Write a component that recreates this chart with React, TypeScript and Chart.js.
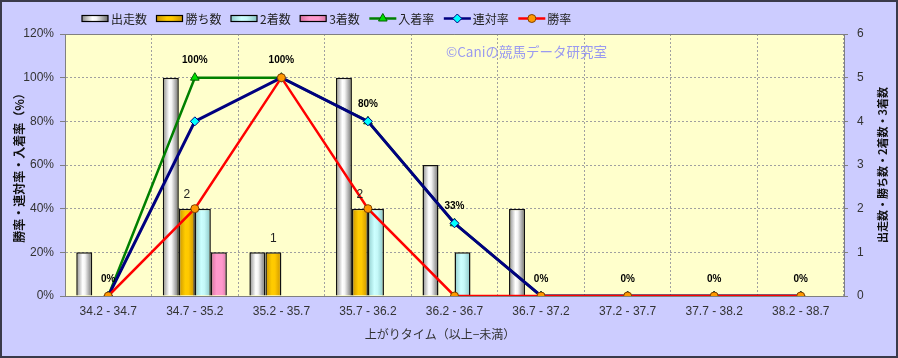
import React, { useEffect, useRef } from 'react';
import { Chart, registerables } from 'chart.js';

Chart.register(...registerables);

// ---- data ----
const categories = [
  '34.2 - 34.7', '34.7 - 35.2', '35.2 - 35.7', '35.7 - 36.2', '36.2 - 36.7',
  '36.7 - 37.2', '37.2 - 37.7', '37.7 - 38.2', '38.2 - 38.7',
];
const starts = [1, 5, 1, 5, 3, 2, 0, 0, 0];
const wins = [0, 2, 1, 2, 0, 0, 0, 0, 0];
const seconds = [0, 2, 0, 2, 1, 0, 0, 0, 0];
const thirds = [0, 1, 0, 0, 0, 0, 0, 0, 0];
const placeRate = [0, 100, 100, 80, 33.3, 0, 0, 0, 0];
const rentaiRate = [0, 80, 100, 80, 33.3, 0, 0, 0, 0];
const winRate = [0, 40, 100, 40, 0, 0, 0, 0, 0];
const rateTicks = { min: 0, max: 120, step: 20 };
const countTicks = { min: 0, max: 6, step: 1 };

const FONT = '"Liberation Sans", "Noto Sans CJK JP", sans-serif';
const JFONT = '"Noto Sans CJK JP", "Liberation Sans", sans-serif';

type Stops = [number, string][];
const barStops: Record<string, Stops> = {
  '出走数': [[0, '#8a8a8a'], [0.4, '#ffffff'], [0.55, '#f4f4f4'], [1, '#6c6c6c']],
  '勝ち数': [[0, '#c89200'], [0.4, '#ffcc00'], [0.6, '#ffc800'], [1, '#c89200']],
  '2着数': [[0, '#8fcccc'], [0.4, '#ccffff'], [0.6, '#c4f8f8'], [1, '#88c4c4']],
  '3着数': [[0, '#d9709f'], [0.35, '#ff99cc'], [0.7, '#ff99cc'], [1, '#d878a8']],
};

function grad(ctx: CanvasRenderingContext2D, x0: number, x1: number, stops: Stops) {
  const g = ctx.createLinearGradient(x0, 0, x1, 0);
  stops.forEach(([o, c]) => g.addColorStop(o, c));
  return g;
}

function drawMarker(ctx: CanvasRenderingContext2D, style: string, x: number, y: number, bg: string, bc: string) {
  ctx.save();
  ctx.beginPath();
  if (style === 'triangle') {
    const r = 5;
    ctx.moveTo(x, y - r);
    ctx.lineTo(x + r * Math.sin((2 * Math.PI) / 3), y - r * Math.cos((2 * Math.PI) / 3));
    ctx.lineTo(x + r * Math.sin((4 * Math.PI) / 3), y - r * Math.cos((4 * Math.PI) / 3));
    ctx.closePath();
  } else if (style === 'rectRot') {
    const r = 4.5;
    ctx.moveTo(x, y - r); ctx.lineTo(x + r, y); ctx.lineTo(x, y + r); ctx.lineTo(x - r, y); ctx.closePath();
  } else {
    ctx.arc(x, y, 4, 0, Math.PI * 2);
  }
  ctx.fillStyle = bg;
  ctx.fill();
  ctx.lineWidth = 1;
  ctx.strokeStyle = bc;
  ctx.stroke();
  ctx.restore();
}

const decorPlugin = {
  id: 'decor',
  beforeDraw(chart: any) {
    const { ctx, chartArea: a, width, height } = chart;
    ctx.save();
    ctx.fillStyle = '#ccccff';
    ctx.fillRect(0, 0, width, height);
    ctx.strokeStyle = '#3a3a4a';
    ctx.lineWidth = 2;
    ctx.strokeRect(1, 1, width - 2, height - 2);
    ctx.fillStyle = '#ffffcc';
    ctx.fillRect(a.left, a.top, a.right - a.left, a.bottom - a.top);
    ctx.restore();
  },
  beforeDatasetsDraw(chart: any) {
    const { ctx, chartArea: a } = chart;
    ctx.save();
    ctx.strokeStyle = '#808080';
    ctx.lineWidth = 1;
    ctx.beginPath();
    ctx.moveTo(a.left, a.top + 0.5);
    ctx.lineTo(a.right, a.top + 0.5);
    ctx.stroke();
    // watermark
    ctx.font = '13.5px ' + JFONT;
    ctx.fillStyle = '#9a9af0';
    ctx.textAlign = 'left';
    ctx.textBaseline = 'middle';
    ctx.fillText('©Caniの競馬データ研究室', 446, 52);
    ctx.restore();
  },
  beforeDatasetDraw(chart: any, args: any) {
    const meta = args.meta;
    if (meta.type !== 'bar') return;
    const stops = barStops[chart.data.datasets[meta.index].label];
    const { ctx } = chart;
    meta.data.forEach((el: any) => {
      const x0 = el.x - el.width / 2;
      const x1 = el.x + el.width / 2;
      el.options = { ...el.options, backgroundColor: grad(ctx, x0, x1, stops) };
    });
  },
  afterDatasetsDraw(chart: any) {
    const { ctx } = chart;
    const ds = chart.data.datasets;
    ctx.save();
    ctx.textAlign = 'center';
    ctx.textBaseline = 'middle';
    // rate labels on 入着率
    const pi = ds.findIndex((d: any) => d.label === '入着率');
    const pm = chart.getDatasetMeta(pi);
    ctx.font = 'bold 10px ' + FONT;
    ctx.fillStyle = '#000';
    pm.data.forEach((el: any, i: number) => {
      ctx.fillText(Math.round(ds[pi].data[i]) + '%', el.x, el.y - 17);
    });
    // win count labels
    const wi = ds.findIndex((d: any) => d.label === '勝ち数');
    const wm = chart.getDatasetMeta(wi);
    ctx.font = '12px ' + FONT;
    ctx.fillStyle = '#222';
    wm.data.forEach((el: any, i: number) => {
      const v = ds[wi].data[i];
      if (v > 0) ctx.fillText(String(v), el.x, el.y - 14);
    });
    ctx.restore();
  },
  afterDraw(chart: any) {
    const { ctx, chartArea: a } = chart;
    const ds = chart.data.datasets;
    ctx.save();
    // legend
    const order = ['出走数', '勝ち数', '2着数', '3着数', '入着率', '連対率', '勝率'];
    let x = 82;
    const cy = 18.5;
    ctx.font = '12px ' + JFONT;
    ctx.textBaseline = 'middle';
    ctx.textAlign = 'left';
    order.forEach((lab) => {
      const d = ds.find((q: any) => q.label === lab);
      if (d.type === 'bar') {
        ctx.fillStyle = grad(ctx, x, x + 26, barStops[lab]);
        ctx.fillRect(x, cy - 3, 26, 6);
        ctx.strokeStyle = '#000';
        ctx.lineWidth = 1.2;
        ctx.strokeRect(x, cy - 3, 26, 6);
        x += 26 + 3;
      } else {
        ctx.strokeStyle = d.borderColor;
        ctx.lineWidth = 2.5;
        ctx.beginPath();
        ctx.moveTo(x, cy);
        ctx.lineTo(x + 27, cy);
        ctx.stroke();
        drawMarker(ctx, d.pointStyle, x + 13.5, cy, d.pointBackgroundColor, d.pointBorderColor);
        x += 27 + 2;
      }
      ctx.fillStyle = '#222';
      ctx.fillText(lab, x, cy + 0.5);
      x += ctx.measureText(lab).width + 9.5;
    });
    // axis titles
    ctx.fillStyle = '#111';
    ctx.textAlign = 'center';
    ctx.font = 'bold 12px ' + JFONT;
    const midY = (a.top + a.bottom) / 2;
    ctx.save();
    ctx.translate(19, midY);
    ctx.rotate(-Math.PI / 2);
    ctx.fillText('勝率・連対率・入着率（%）', 0, 0);
    ctx.restore();
    ctx.save();
    ctx.translate(883, midY);
    ctx.rotate(-Math.PI / 2);
    ctx.font = 'bold 11px ' + JFONT;
    ctx.fillText('出走数・勝ち数・2着数・3着数', 0, 0);
    ctx.restore();
    ctx.font = '12px ' + JFONT;
    ctx.fillStyle = '#333';
    ctx.fillText('上がりタイム（以上−未満）', 440, 334);
    ctx.restore();
  },
};

export default function App() {
  const ref = useRef<HTMLCanvasElement>(null);
  useEffect(() => {
    document.body.style.margin = '0';
    const barDs = (label: string, data: number[]) => ({
      type: 'bar' as const,
      label,
      data,
      yAxisID: 'y1',
      backgroundColor: barStops[label][1][1],
      borderColor: '#111',
      borderWidth: 1.5,
      borderSkipped: 'start' as const,
      barPercentage: 1,
      categoryPercentage: 0.74,
      order: 10,
    });
    const lineDs = (label: string, data: number[], color: string, style: string, bg: string, bc: string, width: number, radius: number, order: number) => ({
      type: 'line' as const,
      label,
      data,
      yAxisID: 'y',
      borderColor: color,
      borderWidth: width,
      backgroundColor: bg,
      pointStyle: style,
      pointBackgroundColor: bg,
      pointBorderColor: bc,
      pointBorderWidth: 1,
      pointRadius: radius,
      tension: 0,
      fill: false,
      order,
    });
    const chart = new Chart(ref.current!, {
      type: 'bar',
      data: {
        labels: categories,
        datasets: [
          barDs('出走数', starts),
          barDs('勝ち数', wins),
          barDs('2着数', seconds),
          barDs('3着数', thirds),
          lineDs('入着率', placeRate, '#008000', 'triangle', '#00e000', '#006000', 2.5, 5, 3),
          lineDs('連対率', rentaiRate, '#000080', 'rectRot', '#00ffff', '#000080', 3, 4.5, 2),
          lineDs('勝率', winRate, '#ff0000', 'circle', '#ff9900', '#804000', 2.5, 4, 1),
        ] as any,
      },
      options: {
        animation: false,
        responsive: false,
        devicePixelRatio: 1,
        layout: { padding: { top: 34, left: 0, right: 0, bottom: 0 } },
        plugins: { legend: { display: false }, tooltip: { enabled: false } },
        scales: {
          x: {
            type: 'category',
            offset: true,
            grid: { offset: true, color: '#a0a0a0', drawTicks: false, tickLength: 0 },
            border: { display: true, color: '#808080', width: 1, dash: [2, 2] },
            ticks: { font: { size: 12, family: FONT }, color: '#333', padding: 8, maxRotation: 0, autoSkip: false },
            afterFit: (s: any) => { s.height = 62; },
          } as any,
          y: {
            position: 'left',
            min: rateTicks.min,
            max: rateTicks.max,
            grid: { color: '#a0a0a0', tickLength: 5, tickColor: '#808080', tickBorderDash: [], tickWidth: 1 },
            border: { display: true, color: '#808080', dash: [2, 2] },
            ticks: { stepSize: rateTicks.step, font: { size: 12, family: FONT }, color: '#333', padding: 6, callback: (v: any) => v + '%' },
            afterFit: (s: any) => { s.width = 65; },
          } as any,
          y1: {
            position: 'right',
            min: countTicks.min,
            max: countTicks.max,
            grid: { drawOnChartArea: false, tickLength: 4, color: '#808080' },
            border: { display: true, color: '#808080' },
            ticks: { stepSize: countTicks.step, font: { size: 12, family: FONT }, color: '#333', padding: 9 },
            afterFit: (s: any) => { s.width = 54; },
          } as any,
        },
      },
      plugins: [decorPlugin],
    });
    return () => chart.destroy();
  }, []);
  return (
    <div style={{ width: 898, height: 358 }}>
      <canvas ref={ref} width={898} height={358} style={{ display: 'block' }} />
    </div>
  );
}
